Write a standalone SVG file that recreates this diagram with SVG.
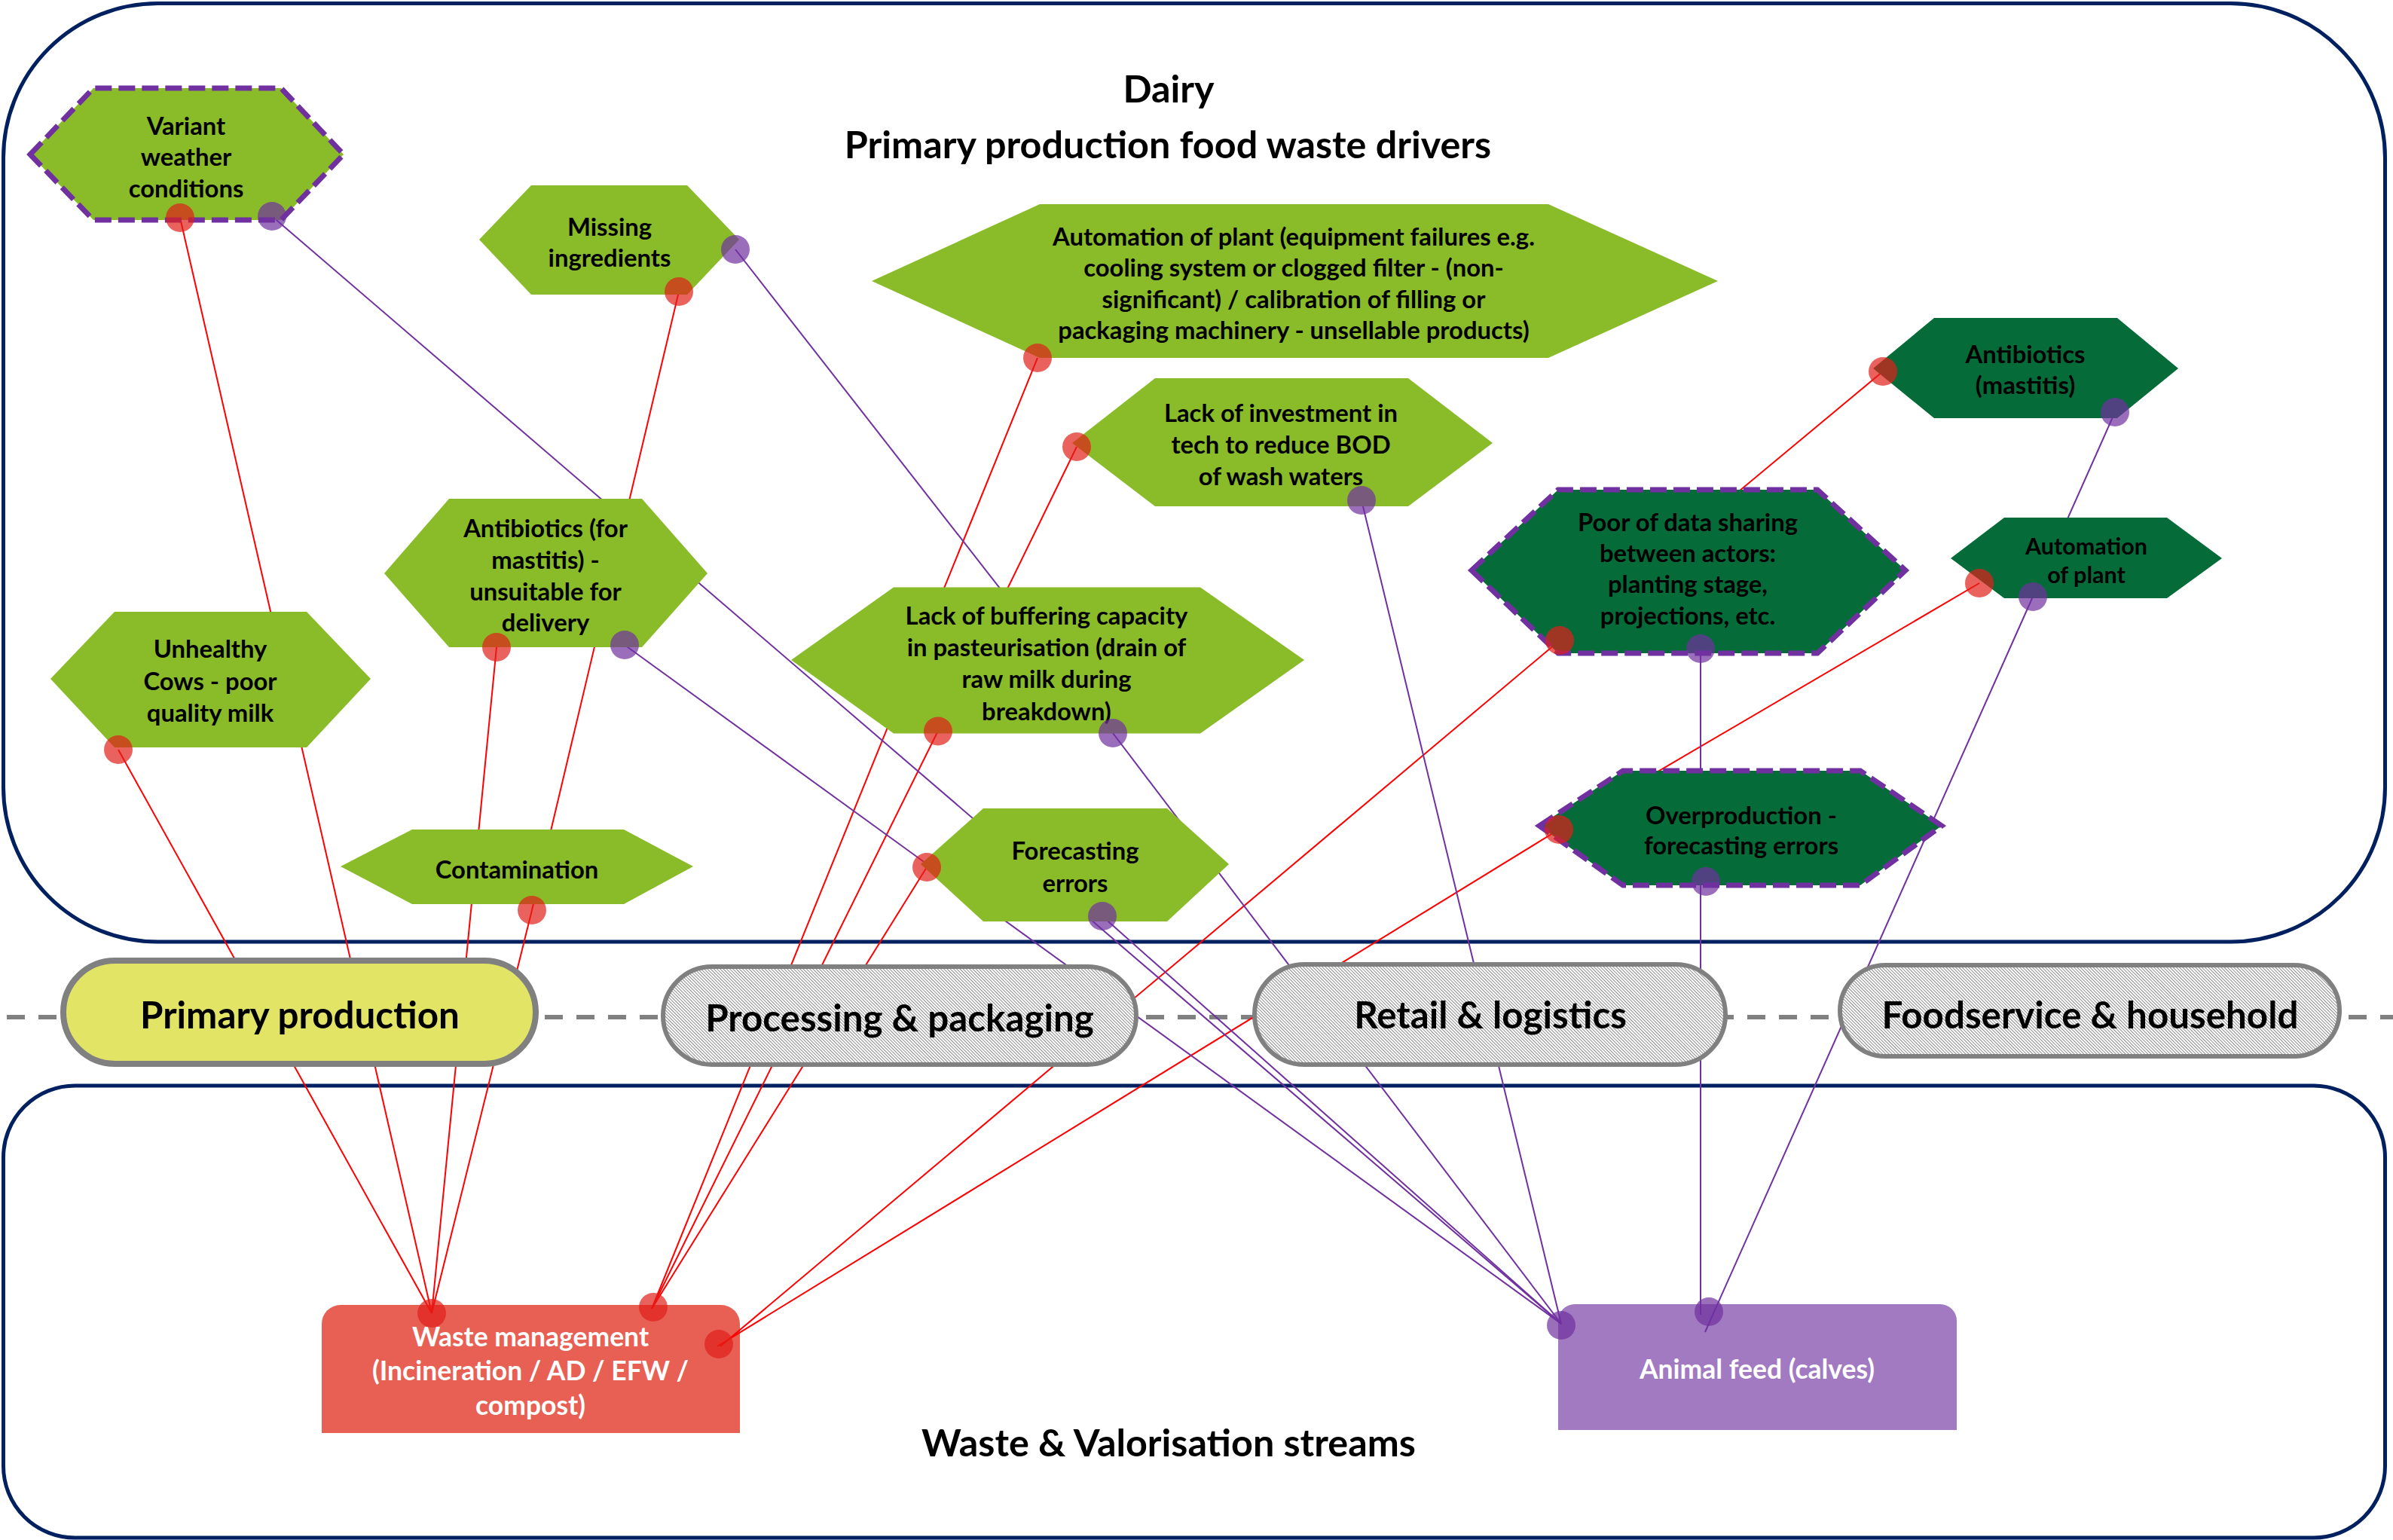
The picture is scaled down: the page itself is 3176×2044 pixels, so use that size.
<svg xmlns="http://www.w3.org/2000/svg" width="3176" height="2044" viewBox="0 0 3176 2044">
<defs>
  <pattern id="hatch" width="3" height="3" patternUnits="userSpaceOnUse" patternTransform="rotate(-45)">
    <rect width="3" height="3" fill="#ffffff"/>
    <rect width="1" height="3" fill="#8c8c8c"/>
  </pattern>
</defs>
<style>
  .frame{fill:none;stroke:#002060;stroke-width:5}
  .stage-line{stroke:#808080;stroke-width:6;stroke-dasharray:24 18;stroke-dashoffset:33}
  .hex-l{fill:#89BC28}
  .hex-d{fill:#056C39}
  .dash{stroke:#7030A0;stroke-width:7;stroke-dasharray:22 9}
  .pill{stroke:#808080;stroke-width:6;fill:url(#hatch)}
  .red{stroke:#FF0000;stroke-width:2;fill:none}
  .pur{stroke:#7030A0;stroke-width:2;fill:none}
  .dr{fill:#E0201A;fill-opacity:0.7}
  .dp{fill:#7030A0;fill-opacity:0.7}
  text{font-family:Lato,'Liberation Sans',sans-serif;font-weight:700;text-anchor:middle;fill:#000}
  .n{font-size:32.8px}
  .ns{font-size:30.5px}
  .h{font-size:50.3px}
  .p{font-size:49.3px}
  .w{font-size:35.5px;fill:#ffffff}
</style>

<rect width="3176" height="2044" fill="#ffffff"/>

<!-- containers -->
<g id="drivers-frame">
  <rect class="frame" x="4.5" y="4.5" width="3161" height="1245.5" rx="205" ry="205"/>
  <text class="h" x="1551" y="136">Dairy</text>
  <text class="h" x="1550" y="210">Primary production food waste drivers</text>
</g>
<g id="streams-frame">
  <rect class="frame" x="4.5" y="1441" width="3161" height="600" rx="95" ry="95"/>
  <text class="h" x="1551" y="1933">Waste &amp; Valorisation streams</text>
</g>

<!-- supply chain stage axis -->
<line class="stage-line" x1="0" y1="1350" x2="3176" y2="1350"/>

<!-- destination streams -->
<g id="waste-management">
  <path d="M427,1902 V1757 A25,25 0 0 1 452,1732 H957 A25,25 0 0 1 982,1757 V1902 Z" fill="#E86054"/>
  <text class="w" x="704" y="1787">Waste management</text>
  <text class="w" x="704" y="1832">(Incineration / AD / EFW /</text>
  <text class="w" x="704" y="1878">compost)</text>
</g>
<g id="animal-feed">
  <path d="M2068,1898 V1753 A22,22 0 0 1 2090,1731 H2575 A22,22 0 0 1 2597,1753 V1898 Z" fill="#A17AC1"/>
  <text class="w" x="2332" y="1830">Animal feed (calves)</text>
</g>

<!-- connectors: drawn behind the stage pills and driver hexagons -->
<g id="connectors">
  <!-- to waste management -->
  <line class="red" x1="239" y1="289" x2="573" y2="1743"/>
  <line class="red" x1="157" y1="995" x2="573" y2="1743"/>
  <line class="red" x1="901" y1="387" x2="706" y2="1208"/>
  <line class="red" x1="706" y1="1208" x2="573" y2="1743"/>
  <line class="red" x1="659" y1="859" x2="573" y2="1743"/>
  <line class="red" x1="1377" y1="475" x2="865" y2="1737"/>
  <line class="red" x1="1429" y1="593" x2="1245" y2="970"/>
  <line class="red" x1="1245" y1="970" x2="865" y2="1737"/>
  <line class="red" x1="1230" y1="1151" x2="865" y2="1737"/>
  <line class="red" x1="2499" y1="493" x2="2070" y2="850"/>
  <line class="red" x1="2070" y1="850" x2="956" y2="1787"/>
  <line class="red" x1="2627" y1="774" x2="2069" y2="1101"/>
  <line class="red" x1="2069" y1="1101" x2="952" y2="1787"/>
  <!-- to animal feed -->
  <line class="pur" x1="361" y1="287" x2="2072" y2="1757"/>
  <line class="pur" x1="976" y1="331" x2="1477" y2="973"/>
  <line class="pur" x1="1477" y1="973" x2="2072" y2="1757"/>
  <line class="pur" x1="829" y1="856" x2="2072" y2="1757"/>
  <line class="pur" x1="1807" y1="664" x2="2072" y2="1757"/>
  <line class="pur" x1="1463" y1="1216" x2="2072" y2="1757"/>
  <line class="pur" x1="2257" y1="861" x2="2257" y2="1745"/>
  <line class="pur" x1="2807" y1="547" x2="2698" y2="792"/>
  <line class="pur" x1="2698" y1="792" x2="2263" y2="1768"/>
</g>

<!-- supply chain stages -->
<g id="stage-primary">
  <rect x="84" y="1275" width="627" height="137" rx="68.5" fill="#E2E465" stroke="#808080" stroke-width="8"/>
  <text class="p" x="398" y="1365">Primary production</text>
</g>
<g id="stage-processing">
  <rect class="pill" x="880" y="1283" width="628" height="130" rx="65"/>
  <text class="p" x="1194" y="1369">Processing &amp; packaging</text>
</g>
<g id="stage-retail">
  <rect class="pill" x="1665" y="1280" width="625" height="133" rx="66.5"/>
  <text class="p" x="1978" y="1365">Retail &amp; logistics</text>
</g>
<g id="stage-foodservice">
  <rect class="pill" x="2442" y="1281" width="663" height="121" rx="60.5"/>
  <text class="p" x="2774" y="1365">Foodservice &amp; household</text>
</g>

<!-- drivers -->
<g id="variant-weather">
  <polygon class="hex-l dash" points="40,205 124,117 373,117 456,205 373,292 124,292"/>
  <text class="n" x="247" y="178.5">Variant</text>
  <text class="n" x="247" y="220">weather</text>
  <text class="n" x="247" y="262">conditions</text>
</g>
<g id="missing-ingredients">
  <polygon class="hex-l" points="636,318 705,246 912,246 981,318 912,391 705,391"/>
  <text class="n" x="809" y="312.5">Missing</text>
  <text class="n" x="809" y="354">ingredients</text>
</g>
<g id="automation-equipment">
  <polygon class="hex-l" points="1157,373 1380,271 2055,271 2280,373 2055,475 1380,475"/>
  <text class="n" x="1717" y="326">Automation of plant (equipment failures e.g.</text>
  <text class="n" x="1717" y="367">cooling system or clogged filter - (non-</text>
  <text class="n" x="1717" y="408.5">significant) / calibration of filling or</text>
  <text class="n" x="1717" y="450">packaging machinery - unsellable products)</text>
</g>
<g id="lack-of-investment">
  <polygon class="hex-l" points="1423,588 1533,502 1869,502 1981,588 1869,672 1533,672"/>
  <text class="n" x="1700" y="560">Lack of investment in</text>
  <text class="n" x="1700" y="602">tech to reduce BOD</text>
  <text class="n" x="1700" y="644">of wash waters</text>
</g>
<g id="antibiotics-mastitis">
  <polygon class="hex-d" points="2486,489 2567,422 2810,422 2891,489 2810,555 2567,555"/>
  <text class="n" x="2688" y="482">Antibiotics</text>
  <text class="n" x="2688" y="523">(mastitis)</text>
</g>
<g id="poor-data-sharing">
  <polygon class="hex-d dash" points="1953,757 2068,650 2412,650 2529,757 2412,867 2068,867"/>
  <text class="n" x="2240" y="704.5">Poor of data sharing</text>
  <text class="n" x="2240" y="745.5">between actors:</text>
  <text class="n" x="2240" y="787">planting stage,</text>
  <text class="n" x="2240" y="828.5">projections, etc.</text>
</g>
<g id="automation-plant">
  <polygon class="hex-d" points="2589,741 2660,687 2876,687 2949,741 2876,794 2660,794"/>
  <text class="ns" x="2769" y="736">Automation</text>
  <text class="ns" x="2769" y="774">of plant</text>
</g>
<g id="overproduction">
  <polygon class="hex-d dash" points="2043,1096 2154,1023 2469,1023 2577,1096 2469,1175 2154,1175"/>
  <text class="n" x="2311" y="1094">Overproduction -</text>
  <text class="n" x="2311" y="1134">forecasting errors</text>
</g>
<g id="unhealthy-cows">
  <polygon class="hex-l" points="67,901 152,812 407,812 492,901 407,992 152,992"/>
  <text class="n" x="279" y="873">Unhealthy</text>
  <text class="n" x="279" y="916">Cows - poor</text>
  <text class="n" x="279" y="958">quality milk</text>
</g>
<g id="antibiotics-delivery">
  <polygon class="hex-l" points="510,761 596,662 852,662 939,761 852,859 596,859"/>
  <text class="n" x="724" y="712.5">Antibiotics (for</text>
  <text class="n" x="724" y="755">mastitis) -</text>
  <text class="n" x="724" y="797">unsuitable for</text>
  <text class="n" x="724" y="838">delivery</text>
</g>
<g id="contamination">
  <polygon class="hex-l" points="452,1150 547,1101 828,1101 920,1150 828,1200 547,1200"/>
  <text class="n" x="686" y="1165.5">Contamination</text>
</g>
<g id="buffering-capacity">
  <polygon class="hex-l" points="1050,876 1186,779.5 1593,779.5 1731,876 1593,973.5 1186,973.5"/>
  <text class="n" x="1389" y="828.5">Lack of buffering capacity</text>
  <text class="n" x="1389" y="871">in pasteurisation (drain of</text>
  <text class="n" x="1389" y="912.5">raw milk during</text>
  <text class="n" x="1389" y="955.5">breakdown)</text>
</g>
<g id="forecasting-errors">
  <polygon class="hex-l" points="1222,1147 1305,1073 1549,1073 1631,1147 1549,1223 1305,1223"/>
  <text class="n" x="1427" y="1141">Forecasting</text>
  <text class="n" x="1427" y="1183.5">errors</text>
</g>

<!-- connector end points -->
<g id="endpoints">
  <circle class="dr" cx="239" cy="289" r="19"/>
  <circle class="dr" cx="901" cy="387" r="19"/>
  <circle class="dr" cx="1377" cy="475" r="19"/>
  <circle class="dr" cx="1429" cy="593" r="19"/>
  <circle class="dr" cx="2499" cy="493" r="19"/>
  <circle class="dr" cx="2070" cy="850" r="19"/>
  <circle class="dr" cx="2627" cy="774" r="19"/>
  <circle class="dr" cx="2069" cy="1101" r="19"/>
  <circle class="dr" cx="157" cy="995" r="19"/>
  <circle class="dr" cx="659" cy="859" r="19"/>
  <circle class="dr" cx="706" cy="1208" r="19"/>
  <circle class="dr" cx="1245" cy="970.5" r="19"/>
  <circle class="dr" cx="1230" cy="1151" r="19"/>
  <circle class="dr" cx="573" cy="1743" r="19"/>
  <circle class="dr" cx="867" cy="1735" r="19"/>
  <circle class="dr" cx="954" cy="1784" r="19"/>
  <circle class="dp" cx="361" cy="287" r="19"/>
  <circle class="dp" cx="976" cy="331" r="19"/>
  <circle class="dp" cx="1807" cy="664" r="19"/>
  <circle class="dp" cx="2807" cy="547" r="19"/>
  <circle class="dp" cx="2257" cy="861" r="19"/>
  <circle class="dp" cx="2698" cy="792" r="19"/>
  <circle class="dp" cx="2264" cy="1170" r="19"/>
  <circle class="dp" cx="829" cy="856" r="19"/>
  <circle class="dp" cx="1477" cy="973" r="19"/>
  <circle class="dp" cx="1463" cy="1216" r="19"/>
  <circle class="dp" cx="2072" cy="1759" r="19"/>
  <circle class="dp" cx="2268" cy="1741" r="19"/>
</g>
</svg>
